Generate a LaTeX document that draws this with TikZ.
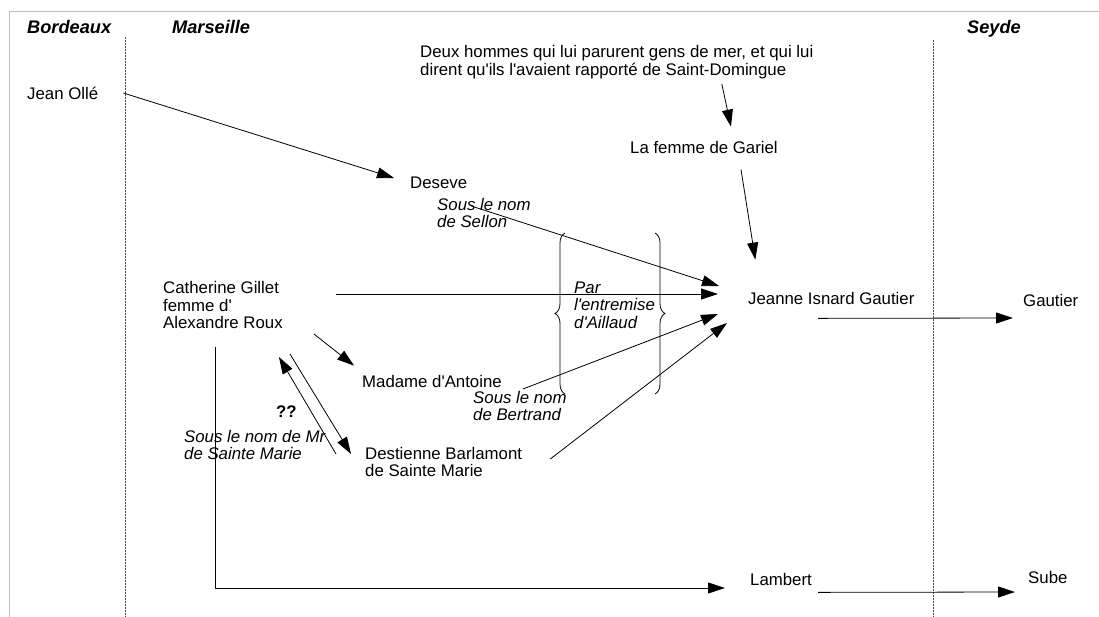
\documentclass[tikz,border=0pt]{standalone}
\usepackage{fontspec}
\setmainfont{Liberation Sans}
\usetikzlibrary{arrows.meta, decorations.pathreplacing}

\begin{document}
\begin{tikzpicture}[x=1pt, y=-1pt,
  txt/.style={anchor=west, inner sep=0pt, align=left, font=\fontsize{16.8}{17.6}\selectfont},
  note/.style={txt, font=\fontsize{16.8}{17.6}\selectfont\itshape},
  town/.style={anchor=base west, inner sep=0pt, font=\fontsize{18.2}{20}\selectfont\bfseries\itshape},
  arr/.style={line width=0.8pt, -{Triangle[length=17pt, width=11pt]}},
  border/.style={line width=0.8pt, black!70, dash pattern=on 1.6pt off 1.4pt},
  curly/.style={line width=0.8pt, decorate, decoration={brace, amplitude=10pt, aspect=0.5}}]
\useasboundingbox (0,0) rectangle (1099,617);
\draw[black!25, line width=1pt] (9,617) -- (9,12) -- (1099,12);

% towns
\node[town] (bordeaux) at (27, 34) {Bordeaux};
\node[town] (marseille) at (172, 34) {Marseille};
\node[town] (seyde) at (967, 34) {Seyde};
\draw[border] (125, 37) -- (125, 617);
\draw[border] (933, 40) -- (933, 617);

% people
\node[txt] (jean) at (27, 93) {Jean Ollé};
\node[txt] (deux) at (420, 62) {Deux hommes qui lui parurent gens de mer, et qui lui\\dirent qu\textquotesingle ils l\textquotesingle avaient rapporté de Saint-Domingue};
\node[txt] (gariel) at (630, 147) {La femme de Gariel};
\node[txt] (deseve) at (410, 183) {Deseve};
\node[note] (sellon) at (437, 213) {Sous le nom\\de Sellon};
\node[txt] (cath) at (163, 305) {Catherine Gillet\\femme d\textquotesingle\\Alexandre Roux};
\node[note] (par) at (574, 305) {Par\\l\textquotesingle entremise\\d\textquotesingle Aillaud};
\node[txt] (jeanne) at (748, 298) {Jeanne Isnard Gautier};
\node[txt] (gautier) at (1023, 300) {Gautier};
\node[txt] (antoine) at (362, 381) {Madame d\textquotesingle Antoine};
\node[note] (bertrand) at (473, 406) {Sous le nom\\de Bertrand};
\node[txt, font=\fontsize{16.8}{17.6}\selectfont\bfseries] (qq) at (276, 412) {??};
\node[note] (mr) at (184, 445) {Sous le nom de Mr\\de Sainte Marie};
\node[txt] (dest) at (365, 462) {Destienne Barlamont\\de Sainte Marie};
\node[txt] (lambert) at (750, 579) {Lambert};
\node[txt] (sube) at (1028, 577) {Sube};

% braces round Aillaud
\draw[curly] (565, 394) -- (565, 233);
\draw[curly] (655, 233) -- (655, 394);

% arrows
\draw[arr] ([xshift=25pt]jean.east) -- ([xshift=-16pt, yshift=5pt]deseve.west);
\draw[arr] ([xshift=105pt, yshift=-5pt]deux.south) -- ([xshift=27pt, yshift=14pt]gariel.north);
\draw[arr] ([xshift=37pt, yshift=-16pt]gariel.south) -- ([xshift=-76pt, yshift=32pt]jeanne.north);
\draw[arr] ([xshift=4pt, yshift=-17pt]deseve.south east) -- ([xshift=-29pt, yshift=12pt]jeanne.west);
\draw[arr] ([xshift=53pt, yshift=11pt]cath.east) -- ([xshift=-30pt, yshift=4pt]jeanne.west);
\draw[arr] ([xshift=21pt, yshift=-8pt]antoine.east) -- ([xshift=-30pt, yshift=-16pt]jeanne.west);
\draw[arr] ([xshift=28pt, yshift=3pt]dest.east) -- ([xshift=-21pt, yshift=-25pt]jeanne.west);
\draw[arr] ([xshift=31pt, yshift=-5pt]cath.south east) -- ([xshift=-8pt, yshift=9pt]antoine.north west);
\draw[arr] ([xshift=-29pt, yshift=8pt]dest.west) -- ([xshift=-4pt, yshift=-28pt]cath.south east);
\draw[arr] ([xshift=7pt, yshift=-25pt]cath.south east) -- ([xshift=-14pt, yshift=8pt]dest.west);
\draw[arr] ([xshift=52pt, yshift=-18pt]cath.south west) |- ([xshift=-25pt, yshift=-9pt]lambert.west);
\draw[arr] ([xshift=70pt, yshift=-14pt]jeanne.south west) -- ([xshift=-10pt, yshift=-18pt]gautier.west);
\draw[arr] ([xshift=68pt, yshift=-7pt]lambert.south west) -- ([xshift=-13pt, yshift=-15pt]sube.west);
\end{tikzpicture}
\end{document}
